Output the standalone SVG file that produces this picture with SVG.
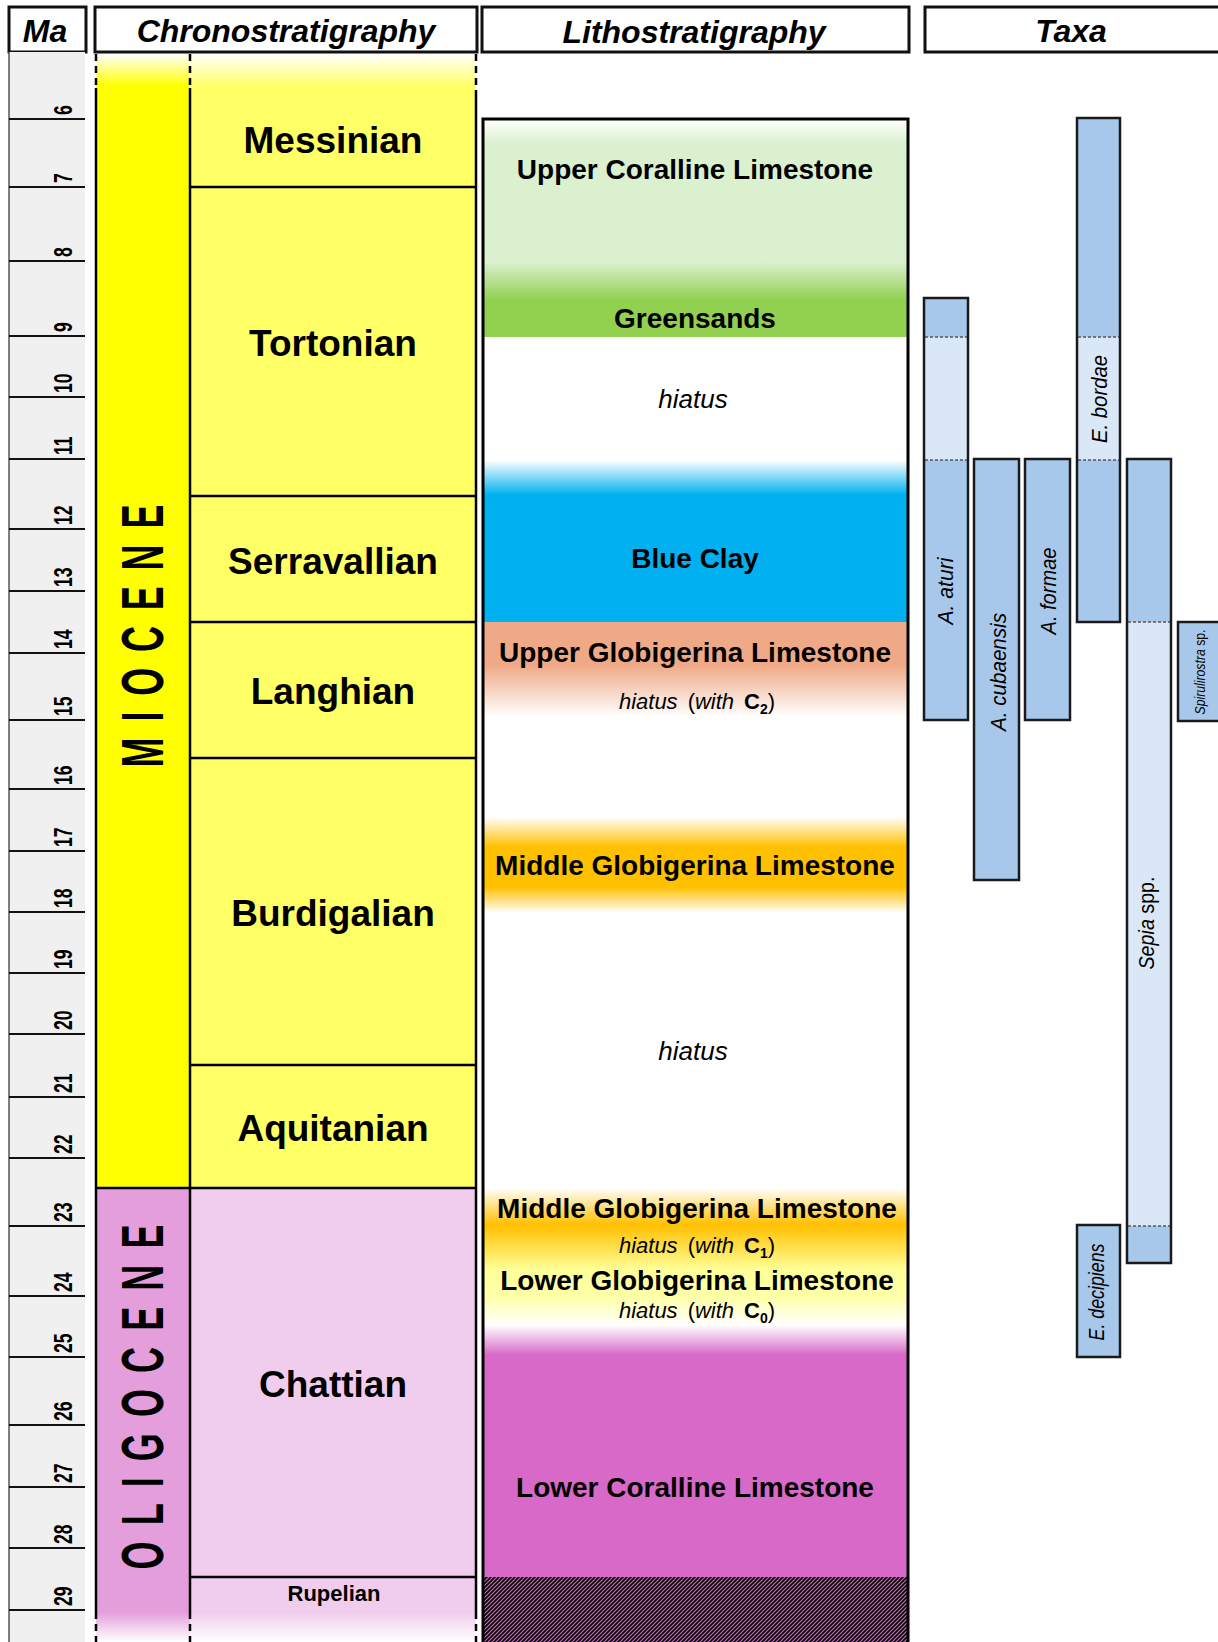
<svg xmlns="http://www.w3.org/2000/svg" width="1218" height="1642" viewBox="0 0 1218 1642">
<style>
text { font-family: "Liberation Sans", Arial, sans-serif; fill:#000; }
.hdr { font-style: italic; font-weight: bold; font-size: 32px; text-anchor: middle; }
.hbox { fill: #fff; stroke: #111; stroke-width: 3; }
.num { font-weight: bold; font-size: 26px; }
.tick { stroke: #111; stroke-width: 2; }
.epoch { font-weight: bold; font-size: 60px; text-anchor: middle; }
.stage { font-weight: bold; font-size: 37px; text-anchor: middle; }
.stage-sm { font-weight: bold; font-size: 22px; text-anchor: middle; }
.bnd { stroke: #000; stroke-width: 2.5; }
.vline { stroke: #000; stroke-width: 2.5; }
.vdash { stroke: #000; stroke-width: 2.5; stroke-dasharray: 7 5; }
.litho { font-weight: bold; font-size: 28px; text-anchor: middle; }
.hi { font-style: italic; font-size: 26px; text-anchor: middle; }
.sm { font-size: 22px; text-anchor: middle; }
.taxon { font-style: italic; font-size: 22px; text-anchor: middle; }
.taxon-sm { font-style: italic; font-size: 14px; text-anchor: middle; }
.dk { fill: #a8c8eb; }
.lt { fill: #dae7f6; }
.bar { fill: none; stroke: #1a1a1a; stroke-width: 2.5; }
.dash { stroke: #555; stroke-width: 1.5; stroke-dasharray: 3 2; }
</style>
<defs>
  <linearGradient id="gMio" gradientUnits="userSpaceOnUse" x1="0" y1="54" x2="0" y2="86">
    <stop offset="0" stop-color="#ffffff"/><stop offset="1" stop-color="#ffff00"/>
  </linearGradient>
  <linearGradient id="gMioSt" gradientUnits="userSpaceOnUse" x1="0" y1="54" x2="0" y2="86">
    <stop offset="0" stop-color="#ffffff"/><stop offset="1" stop-color="#ffff66"/>
  </linearGradient>
  <linearGradient id="gOli" gradientUnits="userSpaceOnUse" x1="0" y1="1612" x2="0" y2="1642">
    <stop offset="0" stop-color="#e39edb"/><stop offset="1" stop-color="#ffffff"/>
  </linearGradient>
  <linearGradient id="gOliSt" gradientUnits="userSpaceOnUse" x1="0" y1="1612" x2="0" y2="1642">
    <stop offset="0" stop-color="#f0cdec"/><stop offset="1" stop-color="#ffffff"/>
  </linearGradient>
  <linearGradient id="gLitho" gradientUnits="userSpaceOnUse" x1="0" y1="118" x2="0" y2="1577">
    <stop offset="0" stop-color="#ffffff"/>
    <stop offset="0.0185" stop-color="#daf0cf"/>
    <stop offset="0.0987" stop-color="#daf0cf"/>
    <stop offset="0.1247" stop-color="#92d050"/>
    <stop offset="0.1501" stop-color="#92d050"/>
    <stop offset="0.1501" stop-color="#ffffff"/>
    <stop offset="0.2344" stop-color="#ffffff"/>
    <stop offset="0.2584" stop-color="#00b0f0"/>
    <stop offset="0.3454" stop-color="#00b0f0"/>
    <stop offset="0.3454" stop-color="#efa986"/>
    <stop offset="0.3749" stop-color="#efa986"/>
    <stop offset="0.4106" stop-color="#ffffff"/>
    <stop offset="0.4791" stop-color="#ffffff"/>
    <stop offset="0.4997" stop-color="#ffc000"/>
    <stop offset="0.5271" stop-color="#ffc000"/>
    <stop offset="0.5449" stop-color="#ffffff"/>
    <stop offset="0.7334" stop-color="#ffffff"/>
    <stop offset="0.7587" stop-color="#ffc000"/>
    <stop offset="0.7896" stop-color="#ffff99"/>
    <stop offset="0.8081" stop-color="#ffffa8"/>
    <stop offset="0.8273" stop-color="#ffffff"/>
    <stop offset="0.8478" stop-color="#d869c8"/>
    <stop offset="1" stop-color="#d869c8"/>
  </linearGradient>
  <pattern id="hatch" patternUnits="userSpaceOnUse" width="4" height="4">
    <rect width="4" height="4" fill="#d869c8"/>
    <path d="M-1,1 l2,-2 M0,4 l4,-4 M3,5 l2,-2" stroke="#000" stroke-width="1.7"/>
  </pattern>
</defs>

<rect width="1218" height="1642" fill="#fff"/>

<!-- Headers -->
<g id="header-ma"><rect class="hbox" x="9" y="7" width="77" height="45"/><text class="hdr" x="45" y="42">Ma</text></g>
<g id="header-chrono"><rect class="hbox" x="95" y="7" width="382" height="45"/><text class="hdr" x="286" y="42">Chronostratigraphy</text></g>
<g id="header-litho"><rect class="hbox" x="482" y="7" width="427" height="45"/><text class="hdr" x="694" y="43">Lithostratigraphy</text></g>
<g id="header-taxa"><rect class="hbox" x="925" y="7" width="300" height="45"/><text class="hdr" x="1071" y="42">Taxa</text></g>

<!-- Ma scale -->
<g id="ma-scale">
  <rect x="9" y="52" width="76" height="1590" fill="#f0f0f0"/>
  <line x1="9" y1="52" x2="9" y2="1642" stroke="#555" stroke-width="1.5"/>
  <g class="ticks">
    <line class="tick" x1="9" y1="119" x2="85" y2="119"/>
    <line class="tick" x1="9" y1="187" x2="85" y2="187"/>
    <line class="tick" x1="9" y1="261" x2="85" y2="261"/>
    <line class="tick" x1="9" y1="336" x2="85" y2="336"/>
    <line class="tick" x1="9" y1="397" x2="85" y2="397"/>
    <line class="tick" x1="9" y1="459" x2="85" y2="459"/>
    <line class="tick" x1="9" y1="529" x2="85" y2="529"/>
    <line class="tick" x1="9" y1="591" x2="85" y2="591"/>
    <line class="tick" x1="9" y1="653" x2="85" y2="653"/>
    <line class="tick" x1="9" y1="720" x2="85" y2="720"/>
    <line class="tick" x1="9" y1="789" x2="85" y2="789"/>
    <line class="tick" x1="9" y1="851" x2="85" y2="851"/>
    <line class="tick" x1="9" y1="912" x2="85" y2="912"/>
    <line class="tick" x1="9" y1="973" x2="85" y2="973"/>
    <line class="tick" x1="9" y1="1034" x2="85" y2="1034"/>
    <line class="tick" x1="9" y1="1097" x2="85" y2="1097"/>
    <line class="tick" x1="9" y1="1158" x2="85" y2="1158"/>
    <line class="tick" x1="9" y1="1226" x2="85" y2="1226"/>
    <line class="tick" x1="9" y1="1296" x2="85" y2="1296"/>
    <line class="tick" x1="9" y1="1357" x2="85" y2="1357"/>
    <line class="tick" x1="9" y1="1425" x2="85" y2="1425"/>
    <line class="tick" x1="9" y1="1487" x2="85" y2="1487"/>
    <line class="tick" x1="9" y1="1548" x2="85" y2="1548"/>
    <line class="tick" x1="9" y1="1610" x2="85" y2="1610"/>
  </g>
  <g class="nums">
    <text class="num" transform="translate(72,115) rotate(-90) scale(0.68,1)">6</text>
    <text class="num" transform="translate(72,183) rotate(-90) scale(0.68,1)">7</text>
    <text class="num" transform="translate(72,257) rotate(-90) scale(0.68,1)">8</text>
    <text class="num" transform="translate(72,332) rotate(-90) scale(0.68,1)">9</text>
    <text class="num" transform="translate(72,393) rotate(-90) scale(0.68,1)">10</text>
    <text class="num" transform="translate(72,455) rotate(-90) scale(0.68,1)">11</text>
    <text class="num" transform="translate(72,525) rotate(-90) scale(0.68,1)">12</text>
    <text class="num" transform="translate(72,587) rotate(-90) scale(0.68,1)">13</text>
    <text class="num" transform="translate(72,649) rotate(-90) scale(0.68,1)">14</text>
    <text class="num" transform="translate(72,716) rotate(-90) scale(0.68,1)">15</text>
    <text class="num" transform="translate(72,785) rotate(-90) scale(0.68,1)">16</text>
    <text class="num" transform="translate(72,847) rotate(-90) scale(0.68,1)">17</text>
    <text class="num" transform="translate(72,908) rotate(-90) scale(0.68,1)">18</text>
    <text class="num" transform="translate(72,969) rotate(-90) scale(0.68,1)">19</text>
    <text class="num" transform="translate(72,1030) rotate(-90) scale(0.68,1)">20</text>
    <text class="num" transform="translate(72,1093) rotate(-90) scale(0.68,1)">21</text>
    <text class="num" transform="translate(72,1154) rotate(-90) scale(0.68,1)">22</text>
    <text class="num" transform="translate(72,1222) rotate(-90) scale(0.68,1)">23</text>
    <text class="num" transform="translate(72,1292) rotate(-90) scale(0.68,1)">24</text>
    <text class="num" transform="translate(72,1353) rotate(-90) scale(0.68,1)">25</text>
    <text class="num" transform="translate(72,1421) rotate(-90) scale(0.68,1)">26</text>
    <text class="num" transform="translate(72,1483) rotate(-90) scale(0.68,1)">27</text>
    <text class="num" transform="translate(72,1544) rotate(-90) scale(0.68,1)">28</text>
    <text class="num" transform="translate(72,1606) rotate(-90) scale(0.68,1)">29</text>
  </g>
</g>

<!-- Chronostratigraphy -->
<g id="epoch-miocene">
  <rect x="96" y="54" width="94" height="1134" fill="url(#gMio)"/>
  <text class="epoch" transform="translate(163,636) rotate(-90) scale(0.6,1)" textLength="438" lengthAdjust="spacing">MIOCENE</text>
</g>
<g id="epoch-oligocene">
  <rect x="96" y="1188" width="94" height="454" fill="url(#gOli)"/>
  <text class="epoch" transform="translate(163,1397) rotate(-90) scale(0.6,1)" textLength="575" lengthAdjust="spacing">OLIGOCENE</text>
</g>
<g id="stage-messinian">
  <rect x="190" y="54" width="286" height="133" fill="url(#gMioSt)"/>
  <text class="stage" x="333" y="153">Messinian</text>
</g>
<g id="stage-tortonian">
  <rect x="190" y="187" width="286" height="309" fill="#ffff66"/>
  <text class="stage" x="333" y="356">Tortonian</text>
</g>
<g id="stage-serravallian">
  <rect x="190" y="496" width="286" height="126" fill="#ffff66"/>
  <text class="stage" x="333" y="574">Serravallian</text>
</g>
<g id="stage-langhian">
  <rect x="190" y="622" width="286" height="136" fill="#ffff66"/>
  <text class="stage" x="333" y="704">Langhian</text>
</g>
<g id="stage-burdigalian">
  <rect x="190" y="758" width="286" height="307" fill="#ffff66"/>
  <text class="stage" x="333" y="926">Burdigalian</text>
</g>
<g id="stage-aquitanian">
  <rect x="190" y="1065" width="286" height="123" fill="#ffff66"/>
  <text class="stage" x="333" y="1141">Aquitanian</text>
</g>
<g id="stage-chattian">
  <rect x="190" y="1188" width="286" height="389" fill="#f0cdec"/>
  <text class="stage" x="333" y="1397">Chattian</text>
</g>
<g id="stage-rupelian">
  <rect x="190" y="1577" width="286" height="65" fill="url(#gOliSt)"/>
  <text class="stage-sm" x="334" y="1601">Rupelian</text>
</g>
<g id="chrono-lines">
  <line class="vdash" x1="96" y1="54" x2="96" y2="88"/>
  <line class="vdash" x1="190" y1="54" x2="190" y2="88"/>
  <line class="vdash" x1="476" y1="54" x2="476" y2="88"/>
  <line class="vline" x1="96" y1="88" x2="96" y2="1612"/>
  <line class="vline" x1="190" y1="88" x2="190" y2="1612"/>
  <line class="vline" x1="476" y1="90" x2="476" y2="1612"/>
  <line class="vdash" x1="96" y1="1612" x2="96" y2="1642"/>
  <line class="vdash" x1="190" y1="1612" x2="190" y2="1642"/>
  <line class="vdash" x1="476" y1="1612" x2="476" y2="1642"/>
  <line class="bnd" x1="190" y1="187" x2="476" y2="187"/>
  <line class="bnd" x1="190" y1="496" x2="476" y2="496"/>
  <line class="bnd" x1="190" y1="622" x2="476" y2="622"/>
  <line class="bnd" x1="190" y1="758" x2="476" y2="758"/>
  <line class="bnd" x1="190" y1="1065" x2="476" y2="1065"/>
  <line class="bnd" x1="96" y1="1188" x2="476" y2="1188"/>
  <line class="bnd" x1="190" y1="1577" x2="476" y2="1577"/>
</g>

<!-- Lithostratigraphy -->
<g id="litho-column">
  <rect x="483" y="119" width="425" height="1458" fill="url(#gLitho)"/>
  <rect x="483" y="1577" width="425" height="66" fill="url(#hatch)"/>
  <rect x="483" y="119" width="425" height="1530" fill="none" stroke="#000" stroke-width="3"/>
</g>
<g id="litho-upper-coralline"><text class="litho" x="695" y="179">Upper Coralline Limestone</text></g>
<g id="litho-greensands"><text class="litho" x="695" y="328">Greensands</text></g>
<g id="litho-hiatus-1"><text class="hi" x="693" y="408">hiatus</text></g>
<g id="litho-blue-clay"><text class="litho" x="695" y="568">Blue Clay</text></g>
<g id="litho-upper-globigerina">
  <text class="litho" x="695" y="662">Upper Globigerina Limestone</text>
  <text class="sm" x="697" y="709"><tspan font-style="italic">hiatus</tspan><tspan dx="10">(</tspan><tspan font-style="italic">with</tspan><tspan dx="10" font-weight="bold">C</tspan><tspan font-weight="bold" font-size="14" dy="5">2</tspan><tspan dy="-5">)</tspan></text>
</g>
<g id="litho-middle-globigerina-1"><text class="litho" x="695" y="875">Middle Globigerina Limestone</text></g>
<g id="litho-hiatus-2"><text class="hi" x="693" y="1060">hiatus</text></g>
<g id="litho-middle-globigerina-2">
  <text class="litho" x="697" y="1218">Middle Globigerina Limestone</text>
  <text class="sm" x="697" y="1253"><tspan font-style="italic">hiatus</tspan><tspan dx="10">(</tspan><tspan font-style="italic">with</tspan><tspan dx="10" font-weight="bold">C</tspan><tspan font-weight="bold" font-size="14" dy="5">1</tspan><tspan dy="-5">)</tspan></text>
</g>
<g id="litho-lower-globigerina">
  <text class="litho" x="697" y="1290">Lower Globigerina Limestone</text>
  <text class="sm" x="697" y="1318"><tspan font-style="italic">hiatus</tspan><tspan dx="10">(</tspan><tspan font-style="italic">with</tspan><tspan dx="10" font-weight="bold">C</tspan><tspan font-weight="bold" font-size="14" dy="5">0</tspan><tspan dy="-5">)</tspan></text>
</g>
<g id="litho-lower-coralline"><text class="litho" x="695" y="1497">Lower Coralline Limestone</text></g>

<!-- Taxa -->
<g id="taxon-a-aturi">
  <rect class="dk" x="924" y="298" width="44" height="39"/>
  <rect class="lt" x="924" y="337" width="44" height="123"/>
  <rect class="dk" x="924" y="460" width="44" height="260"/>
  <line class="dash" x1="925" y1="337" x2="967" y2="337"/>
  <line class="dash" x1="925" y1="460" x2="967" y2="460"/>
  <rect class="bar" x="924" y="298" width="44" height="422"/>
  <text class="taxon" transform="translate(953,591) rotate(-90)" textLength="67" lengthAdjust="spacingAndGlyphs">A. aturi</text>
</g>
<g id="taxon-a-cubaensis">
  <rect class="dk" x="974" y="459" width="45" height="421"/>
  <rect class="bar" x="974" y="459" width="45" height="421"/>
  <text class="taxon" transform="translate(1006,672) rotate(-90)" textLength="118" lengthAdjust="spacingAndGlyphs">A. cubaensis</text>
</g>
<g id="taxon-a-formae">
  <rect class="dk" x="1025" y="459" width="45" height="261"/>
  <rect class="bar" x="1025" y="459" width="45" height="261"/>
  <text class="taxon" transform="translate(1056,591) rotate(-90)" textLength="87" lengthAdjust="spacingAndGlyphs">A. formae</text>
</g>
<g id="taxon-e-bordae">
  <rect class="dk" x="1077" y="118" width="43" height="219"/>
  <rect class="lt" x="1077" y="337" width="43" height="123"/>
  <rect class="dk" x="1077" y="460" width="43" height="162"/>
  <line class="dash" x1="1078" y1="337" x2="1119" y2="337"/>
  <line class="dash" x1="1078" y1="460" x2="1119" y2="460"/>
  <rect class="bar" x="1077" y="118" width="43" height="504"/>
  <text class="taxon" transform="translate(1107,399) rotate(-90)" textLength="88" lengthAdjust="spacingAndGlyphs">E. bordae</text>
</g>
<g id="taxon-sepia">
  <rect class="dk" x="1127" y="459" width="44" height="163"/>
  <rect class="lt" x="1127" y="622" width="44" height="604"/>
  <rect class="dk" x="1127" y="1226" width="44" height="37"/>
  <line class="dash" x1="1128" y1="622" x2="1170" y2="622"/>
  <line class="dash" x1="1128" y1="1226" x2="1170" y2="1226"/>
  <rect class="bar" x="1127" y="459" width="44" height="804"/>
  <text class="taxon" transform="translate(1154,923) rotate(-90)" textLength="93" lengthAdjust="spacingAndGlyphs">Sepia<tspan font-style="normal"> spp.</tspan></text>
</g>
<g id="taxon-spirulirostra">
  <rect class="dk" x="1178" y="622" width="45" height="99"/>
  <rect class="bar" x="1178" y="622" width="45" height="99"/>
  <text class="taxon-sm" transform="translate(1205,672) rotate(-90)" textLength="85" lengthAdjust="spacingAndGlyphs">Spirulirostra<tspan font-style="normal"> sp.</tspan></text>
</g>
<g id="taxon-e-decipiens">
  <rect class="dk" x="1077" y="1225" width="43" height="132"/>
  <rect class="bar" x="1077" y="1225" width="43" height="132"/>
  <text class="taxon" transform="translate(1104,1292) rotate(-90)" textLength="97" lengthAdjust="spacingAndGlyphs">E. decipiens</text>
</g>
<g id="connectors"/>
</svg>
